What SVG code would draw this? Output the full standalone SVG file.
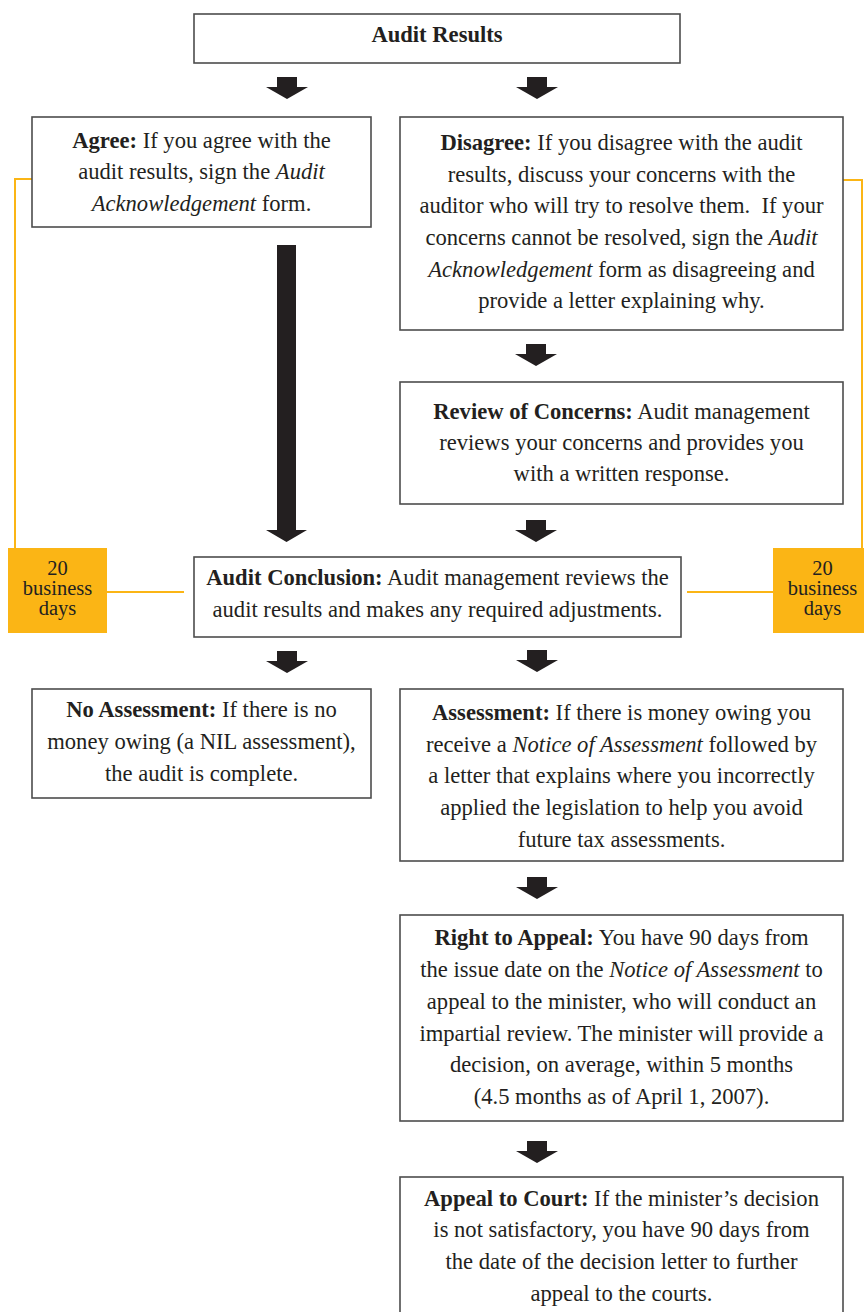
<svg xmlns="http://www.w3.org/2000/svg" width="864" height="1312" viewBox="0 0 864 1312">
<style>
.box{fill:#fff;stroke:#4d4d4d;stroke-width:1.6}
.t{font-family:"Liberation Serif","Times New Roman",serif;font-size:22.6px;fill:#231f20;text-anchor:middle}
.b{font-weight:bold}
.i{font-style:italic}
.arr{fill:#231f20}
.yl{fill:none;stroke:#fbb515;stroke-width:2}
.yb{fill:#fbb515}
.yt{font-family:"Liberation Serif","Times New Roman",serif;font-size:20.5px;fill:#231f20;text-anchor:middle}
</style>
<defs>
<path id="sa" d="M-10,0 h20 v10 h11 l-21,12 l-21,-12 h11 z"/>
</defs>
<g id="connectors">
<use href="#sa" class="arr" x="287" y="77"/>
<use href="#sa" class="arr" x="537" y="77"/>
<path class="arr" d="M277,245 h19 v285 h11 l-20.5,12 l-20.5,-12 h11 z"/>
<use href="#sa" class="arr" x="536" y="344"/>
<use href="#sa" class="arr" x="536" y="520"/>
<use href="#sa" class="arr" x="287" y="651"/>
<use href="#sa" class="arr" x="537" y="650"/>
<use href="#sa" class="arr" x="537" y="877"/>
<use href="#sa" class="arr" x="537" y="1141"/>
<polyline class="yl" points="32,179 15,179 15,548"/>
<polyline class="yl" points="843,180 862,180 862,548"/>
<line class="yl" x1="107" y1="592" x2="184" y2="592"/>
<line class="yl" x1="687" y1="592" x2="773" y2="592"/>
</g>
<g id="audit-results">
<rect class="box" x="194" y="14" width="486" height="49"/>
<text class="t b" x="437" y="42">Audit Results</text>
</g>
<g id="agree">
<rect class="box" x="32" y="117" width="339" height="110"/>
<text class="t" x="201.5" y="148"><tspan class="b">Agree:</tspan> If you agree with the</text>
<text class="t" x="201.5" y="179">audit results, sign the <tspan class="i">Audit</tspan></text>
<text class="t" x="201.5" y="211"><tspan class="i">Acknowledgement</tspan> form.</text>
</g>
<g id="disagree">
<rect class="box" x="400" y="117" width="443" height="213"/>
<text class="t" x="621.5" y="150"><tspan class="b">Disagree:</tspan> If you disagree with the audit</text>
<text class="t" x="621.5" y="182">results, discuss your concerns with the</text>
<text class="t" x="621.5" y="213">auditor who will try to resolve them.&#160; If your</text>
<text class="t" x="621.5" y="245">concerns cannot be resolved, sign the <tspan class="i">Audit</tspan></text>
<text class="t" x="621.5" y="277"><tspan class="i">Acknowledgement</tspan> form as disagreeing and</text>
<text class="t" x="621.5" y="308">provide a letter explaining why.</text>
</g>
<g id="review">
<rect class="box" x="400" y="382" width="443" height="122"/>
<text class="t" x="621.5" y="419"><tspan class="b">Review of Concerns:</tspan> Audit management</text>
<text class="t" x="621.5" y="450">reviews your concerns and provides you</text>
<text class="t" x="621.5" y="481">with a written response.</text>
</g>
<g id="days-left">
<rect class="yb" x="8" y="548" width="99" height="85"/>
<text class="yt" x="57.5" y="575">20<tspan x="57.5" dy="20">business</tspan><tspan x="57.5" dy="20">days</tspan></text>
</g>
<g id="days-right">
<rect class="yb" x="773" y="548" width="99" height="85"/>
<text class="yt" x="822.5" y="575">20<tspan x="822.5" dy="20">business</tspan><tspan x="822.5" dy="20">days</tspan></text>
</g>
<g id="conclusion">
<rect class="box" x="194" y="557" width="487" height="80"/>
<text class="t" x="437.5" y="585"><tspan class="b">Audit Conclusion:</tspan> Audit management reviews the</text>
<text class="t" x="437.5" y="617">audit results and makes any required adjustments.</text>
</g>
<g id="no-assessment">
<rect class="box" x="32" y="689" width="339" height="109"/>
<text class="t" x="201.5" y="717"><tspan class="b">No Assessment:</tspan> If there is no</text>
<text class="t" x="201.5" y="749">money owing (a NIL assessment),</text>
<text class="t" x="201.5" y="781">the audit is complete.</text>
</g>
<g id="assessment">
<rect class="box" x="400" y="689" width="443" height="172"/>
<text class="t" x="621.5" y="720"><tspan class="b">Assessment:</tspan> If there is money owing you</text>
<text class="t" x="621.5" y="752">receive a <tspan class="i">Notice of Assessment</tspan> followed by</text>
<text class="t" x="621.5" y="783">a letter that explains where you incorrectly</text>
<text class="t" x="621.5" y="815">applied the legislation to help you avoid</text>
<text class="t" x="621.5" y="847">future tax assessments.</text>
</g>
<g id="right-to-appeal">
<rect class="box" x="400" y="915" width="443" height="206"/>
<text class="t" x="621.5" y="945"><tspan class="b">Right to Appeal:</tspan> You have 90 days from</text>
<text class="t" x="621.5" y="977">the issue date on the <tspan class="i">Notice of Assessment</tspan> to</text>
<text class="t" x="621.5" y="1009">appeal to the minister, who will conduct an</text>
<text class="t" x="621.5" y="1041">impartial review. The minister will provide a</text>
<text class="t" x="621.5" y="1072">decision, on average, within 5 months</text>
<text class="t" x="621.5" y="1104">(4.5 months as of April 1, 2007).</text>
</g>
<g id="appeal-to-court">
<rect class="box" x="400" y="1177" width="443" height="145"/>
<text class="t" x="621.5" y="1206"><tspan class="b">Appeal to Court:</tspan> If the minister’s decision</text>
<text class="t" x="621.5" y="1237">is not satisfactory, you have 90 days from</text>
<text class="t" x="621.5" y="1269">the date of the decision letter to further</text>
<text class="t" x="621.5" y="1301">appeal to the courts.</text>
</g>
</svg>
